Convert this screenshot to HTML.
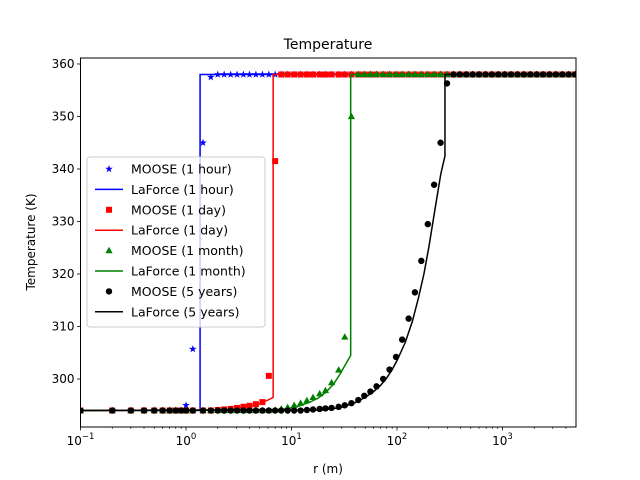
<!DOCTYPE html>
<html><head><meta charset="utf-8"><style>
body{margin:0;background:#fff}
svg{display:block;font-family:"DejaVu Sans","Liberation Sans",sans-serif}
</style></head><body>
<svg id="c" width="640" height="480" viewBox="0 0 640 480">
<rect width="640" height="480" fill="#fff"/>
<text x="328" y="49" text-anchor="middle" font-size="14">Temperature</text>
<text x="328" y="473" text-anchor="middle" font-size="12">r (m)</text>
<text transform="translate(35,242) rotate(-90)" text-anchor="middle" font-size="12">Temperature (K)</text>
<g id="plot"></g>
<g id="axes"></g>
<g id="legend"></g>
</svg>
<script>
const rGrid=[0.1,0.2,0.3,0.4,0.5,0.6,0.7,0.8,0.9,1.0,1.16,1.45,1.72,2.0,2.3,2.65,3.05,3.5,4.0,4.6,5.3,6.1,7.0,8.0,9.2,10.6,12.2,14,16,18.5,21,24,28,32,37,43,49,56,64,74,85,98,112,129,148,170,196,225,259,298,343,394,453,521,600,690,793,912,1049,1206,1387,1595,1834,2109,2425,2789,3207,3688,4241,4877];
const mooseHour=[294,294,294,294,294,294,294,294,294,295,305.7,345,357.5,358,358,358,358,358,358,358,358,358,358,358,358,358,358,358,358,358,358,358,358,358,358,358,358,358,358,358,358,358,358,358,358,358,358,358,358,358,358,358,358,358,358,358,358,358,358,358,358,358,358,358,358,358,358,358,358,358];
const mooseDay=[294,294,294,294,294,294,294,294,294,294,294,294,294,294.1,294.2,294.3,294.5,294.7,294.9,295.2,295.6,300.6,341.5,358,358,358,358,358,358,358,358,358,358,358,358,358,358,358,358,358,358,358,358,358,358,358,358,358,358,358,358,358,358,358,358,358,358,358,358,358,358,358,358,358,358,358,358,358,358,358];
const mooseMonth=[294,294,294,294,294,294,294,294,294,294,294,294,294,294,294,294,294,294,294,294,294,294,294.1,294.3,294.6,295.0,295.4,295.9,296.5,297.2,297.8,299.3,301.7,308,350,358,358,358,358,358,358,358,358,358,358,358,358,358,358,358,358,358,358,358,358,358,358,358,358,358,358,358,358,358,358,358,358,358,358,358];
const mooseYears=[294,294,294,294,294,294,294,294,294,294,294,294,294,294,294,294,294,294,294,294,294,294,294,294,294,294,294,294.1,294.2,294.3,294.4,294.5,294.7,295.0,295.4,296.0,296.8,297.6,298.6,300,301.8,304.2,307.5,311.5,316.5,322.5,329.5,337,345,356.3,358,358,358,358,358,358,358,358,358,358,358,358,358,358,358,358,358,358,358,358];
const lfHourR=[0.1,1.36,1.36,5000], lfHourT=[294,294,358,358];
const lfDayR=[0.1,2,3,4,5,6,6.7,6.7,5000], lfDayT=[294,294.1,294.4,294.8,295.3,296,296.5,358,358];
const lfMonthR=[0.1,8,10,12,15,18,21,25,29,33,36.4,36.4,5000], lfMonthT=[294,294.2,294.5,294.9,295.6,296.4,297.4,299,301,303,304.5,358,358];
const lfYearsR=[0.1,20,30,40,50,60,70,80,90,100,120,140,160,180,200,230,260,285,285,5000], lfYearsT=[294,294.1,294.6,295.5,296.5,297.6,298.8,300.2,301.8,303.5,307,311,315.5,320,325,332.5,339,342.5,358,358];
const yTicks=[300,310,320,330,340,350,360];
const xTicks=[0.1,1,10,100,1000];
const xTickLabels=["-1","0","1","2","3"];
const legendLabels=["MOOSE (1 hour)","LaForce (1 hour)","MOOSE (1 day)","LaForce (1 day)","MOOSE (1 month)","LaForce (1 month)","MOOSE (5 years)","LaForce (5 years)"];

const L=80.5,R=576,T=58,B=427;
const xmin=Math.log10(0.1),xmax=Math.log10(4977),ymin=290.86,ymax=361.14;
const X=v=>L+(Math.log10(v)-xmin)/(xmax-xmin)*(R-L);
const Y=v=>B-(v-ymin)/(ymax-ymin)*(B-T);
const NS="http://www.w3.org/2000/svg";
function mk(tag,attrs,parent){const e=document.createElementNS(NS,tag);for(const k in attrs)e.setAttribute(k,attrs[k]);parent.appendChild(e);return e;}
const plot=document.getElementById('plot'),axes=document.getElementById('axes'),leg=document.getElementById('legend');
mk('clipPath',{id:'clip'},plot).appendChild(Object.assign(document.createElementNS(NS,'rect'),{}));
document.querySelector('#clip rect').setAttribute('x',L);document.querySelector('#clip rect').setAttribute('y',T);
document.querySelector('#clip rect').setAttribute('width',R-L);document.querySelector('#clip rect').setAttribute('height',B-T);
const pg=mk('g',{'clip-path':'url(#clip)'},plot);

function marker(type,cx,cy,col,parent){
  let e;
  if(type==='star'){let p=[];for(let i=0;i<10;i++){const a=-Math.PI/2+i*Math.PI/5,rr=i%2?1.6:4;p.push((cx+rr*Math.cos(a)).toFixed(2)+','+(cy+rr*Math.sin(a)).toFixed(2));}e=mk('polygon',{points:p.join(' '),fill:col},parent);}
  else if(type==='sq'){e=mk('rect',{x:cx-3,y:cy-3,width:6,height:6,fill:col},parent);}
  else if(type==='tri'){e=mk('polygon',{points:`${cx},${cy-3.8} ${cx+3.6},${cy+2.6} ${cx-3.6},${cy+2.6}`,fill:col},parent);}
  else {e=mk('circle',{cx:cx,cy:cy,r:3.2,fill:col},parent);}
  return e;
}
function line(rs,ts,col,name,parent){
  const d=rs.map((r,i)=>(i?'L':'M')+X(r).toFixed(2)+','+Y(ts[i]).toFixed(2)).join('');
  const p=mk('path',{d:d,fill:'none',stroke:col,'stroke-width':1.5},parent);
  
  
}
function pts(ts,type,col,name,parent){
  const g=mk('g',{},parent);
  
  
  ts.forEach((t,i)=>{const m=marker(type,X(rGrid[i]),Y(t),col,g);
    
    });
}
const series=[
 [mooseHour,'star','#0000ff','moose-1-hour',lfHourR,lfHourT,'laforce-1-hour'],
 [mooseDay,'sq','#ff0000','moose-1-day',lfDayR,lfDayT,'laforce-1-day'],
 [mooseMonth,'tri','#008000','moose-1-month',lfMonthR,lfMonthT,'laforce-1-month'],
 [mooseYears,'dot','#000000','moose-5-years',lfYearsR,lfYearsT,'laforce-5-years']];
series.forEach(s=>{pts(s[0],s[1],s[2],s[3],pg);line(s[4],s[5],s[2],s[6],pg);});

// axes frame
const fr=mk('rect',{x:L,y:T,width:R-L,height:B-T,fill:'none',stroke:'#000','stroke-width':1},axes);


yTicks.forEach(v=>{const y=Y(v);mk('line',{x1:L-3.5,x2:L,y1:y,y2:y,stroke:'#000','stroke-width':0.8},axes);
  const t=mk('text',{x:L-6,y:y+4,'text-anchor':'end','font-size':12},axes);t.textContent=v;
  
  });
xTicks.forEach((v,i)=>{const x=X(v);mk('line',{x1:x,x2:x,y1:B,y2:B+3.5,stroke:'#000','stroke-width':0.8},axes);
  const t=mk('text',{x:x,y:B+18,'text-anchor':'middle','font-size':12},axes);
  t.innerHTML='10<tspan dy="-6" font-size="8.5">'+(xTickLabels[i]==='-1'?'\u22121':xTickLabels[i])+'</tspan>';
  
  
  for(let k=2;k<=9;k++){const mv=v*k;if(mv>4977)break;const mx=X(mv);mk('line',{x1:mx,x2:mx,y1:B,y2:B+2,stroke:'#000','stroke-width':0.6},axes);}
});

// legend
const lb=mk('rect',{x:87,y:157,width:178,height:170,rx:3,fill:'#fff','fill-opacity':0.8,stroke:'#ccc','stroke-width':1},leg);


legendLabels.forEach((lab,i)=>{
  const y=169+i*20.4, s=series[Math.floor(i/2)];
  const g=mk('g',{},leg);
  
  
  if(i%2===0) marker(s[1],109,y,s[2],g);
  else mk('line',{x1:95,x2:123,y1:y,y2:y,stroke:s[2],'stroke-width':1.5},g);
  const t=mk('text',{x:131,y:y+4.5,'font-size':12.5},g);t.textContent=lab;
});
</script>
</body></html>
